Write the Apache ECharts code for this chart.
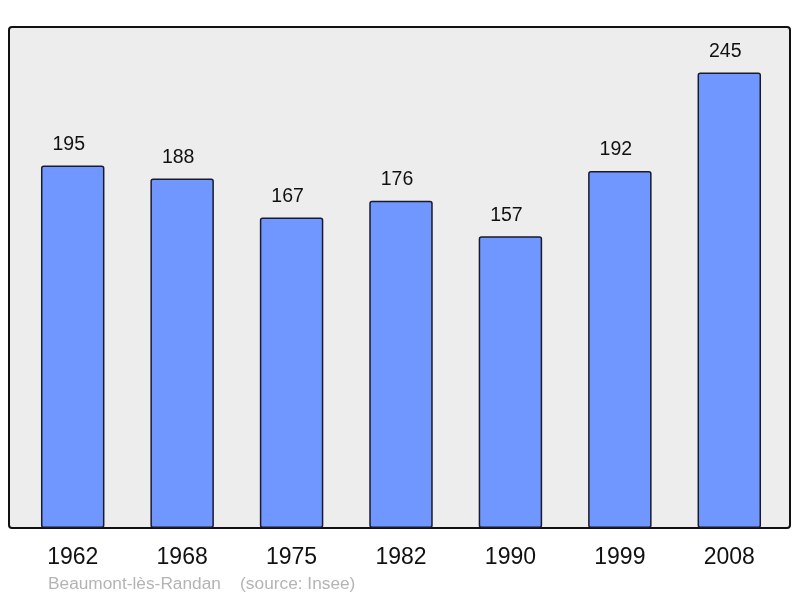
<!DOCTYPE html>
<html>
<head>
<meta charset="utf-8">
<script src="https://cdn.jsdelivr.net/npm/echarts@6/dist/echarts.min.js"></script>
<style>
    html, body {margin: 0; padding: 0; background: #fff;}
    #chart {width: 800px; height: 598px;}
</style>
</head>
<body>
<div id="chart"></div>
<script>
var years = ['1962', '1968', '1975', '1982', '1990', '1999', '2008'];
var population = [195, 188, 167, 176, 157, 192, 245];
var place = 'Beaumont-lès-Randan';
var source = '(source: Insee)';

var chart = echarts.init(document.getElementById('chart'));
var yMax = Math.max.apply(null, population) * 1.1;

chart.setOption({
    animation: false,
    textStyle: {fontFamily: 'Liberation Sans, Arial, sans-serif'},
    // cadre gris derriere les barres
    graphic: [{
        type: 'rect',
        z: -1,
        shape: {x: 9, y: 27, width: 781, height: 501, r: 3},
        style: {fill: '#ededed', stroke: '#111', lineWidth: 2}
    }, {
        type: 'text',
        left: 48,
        top: 576,
        style: {
            text: place + '    ' + source,
            fill: '#b4b4b4',
            font: '17.3px Liberation Sans, Arial, sans-serif'
        }
    }],
    grid: {left: 18, right: 16, top: 27, bottom: 70},
    xAxis: {
        type: 'category',
        data: years,
        axisLine: {show: false},
        axisTick: {show: false},
        axisLabel: {color: '#111', fontSize: 23, margin: 18}
    },
    yAxis: {
        type: 'value',
        min: 0,
        max: yMax,
        show: false,
        splitLine: {show: false}
    },
    series: [{
        type: 'bar',
        data: population,
        barWidth: '58%',
        itemStyle: {
            color: '#7097ff',
            borderColor: '#1a1a2a',
            borderWidth: 1.5,
            borderRadius: 2
        },
        label: {
            show: true,
            position: 'top',
            distance: 11,
            offset: [-4, 0],
            color: '#111',
            fontSize: 19.5
        }
    }]
});
</script>
</body>
</html>
